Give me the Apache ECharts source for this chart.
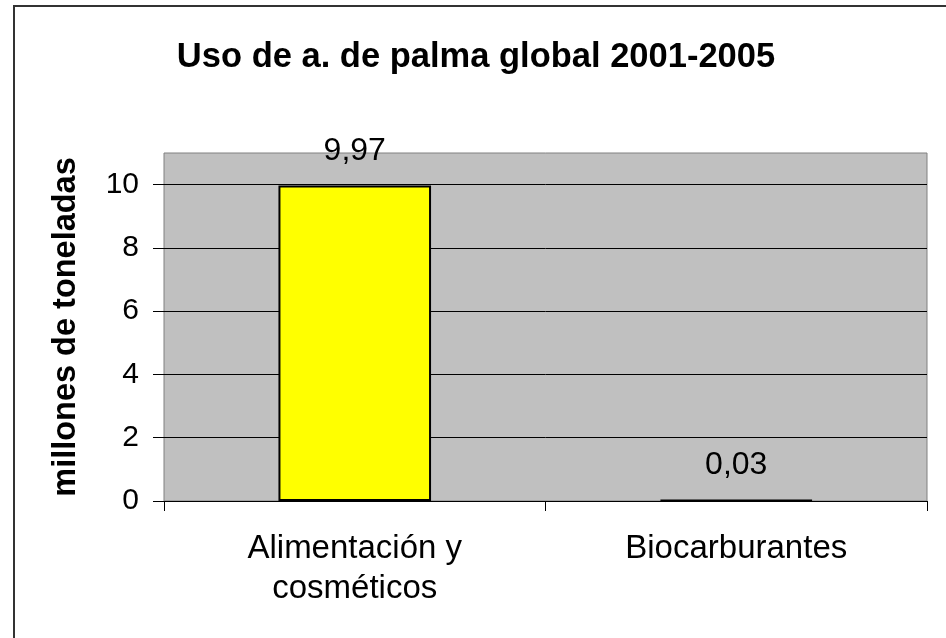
<!DOCTYPE html>
<html>
<head>
<meta charset="utf-8">
<script src="https://cdn.jsdelivr.net/npm/echarts@6/dist/echarts.min.js"></script>
<style>
  html, body { margin: 0; padding: 0; background: #fff; }
  #chart { width: 946px; height: 638px; }
</style>
</head>
<body>
<div id="chart"></div>
<script>
// datos
const categorias = ['Alimentación y\ncosméticos', 'Biocarburantes']
const valores = [9.97, 0.03]
const titulo = 'Uso de a. de palma global 2001-2005'
const nombreEje = 'millones de toneladas'

const fuente = '"Liberation Sans", Arial, sans-serif'

const chart = echarts.init(document.getElementById('chart'))
const option = {
  backgroundColor: '#fff',
  animation: false,
  title: {
    text: titulo,
    left: 471,
    textAlign: 'center',
    top: 35,
    textStyle: { fontFamily: fuente, fontSize: 34.5, fontWeight: 'bold', color: '#000' }
  },
  graphic: [{
    type: 'rect',
    shape: { x: 14, y: 6, width: 1000, height: 1000 },
    style: { fill: 'none', stroke: '#333', lineWidth: 2 },
    z: -1
  }],
  grid: {
    left: 164,
    top: 153,
    right: 19,
    bottom: 137,
    show: true,
    backgroundColor: '#c0c0c0',
    borderColor: '#808080',
    borderWidth: 1
  },
  xAxis: {
    type: 'category',
    data: categorias,
    axisLine: { show: true, lineStyle: { color: '#000', width: 1 } },
    axisTick: { show: true, length: 10, lineStyle: { color: '#000' } },
    axisLabel: {
      fontFamily: fuente, fontSize: 33, color: '#000',
      lineHeight: 40, margin: 28
    }
  },
  yAxis: {
    type: 'value',
    min: 0,
    max: 11,
    interval: 2,
    name: nombreEje,
    nameLocation: 'middle',
    nameGap: 81,
    nameTextStyle: { fontFamily: fuente, fontSize: 32.5, fontWeight: 'bold', color: '#000' },
    axisLine: { show: false },
    axisTick: { show: true, length: 11, lineStyle: { color: '#000' } },
    axisLabel: {
      fontFamily: fuente, fontSize: 30, color: '#000', margin: 25,
      showMaxLabel: false
    },
    splitLine: { show: true, showMaxLine: false, lineStyle: { color: '#000', width: 1 } }
  },
  series: [{
    type: 'bar',
    data: valores,
    barWidth: '40%',
    itemStyle: { color: '#ffff00', borderColor: '#000', borderWidth: 2 },
    label: {
      show: true,
      position: 'top',
      distance: 18,
      fontFamily: fuente,
      fontSize: 32,
      color: '#000',
      formatter: p => String(p.value).replace('.', ',')
    }
  }]
}
chart.setOption(option)
</script>
</body>
</html>
